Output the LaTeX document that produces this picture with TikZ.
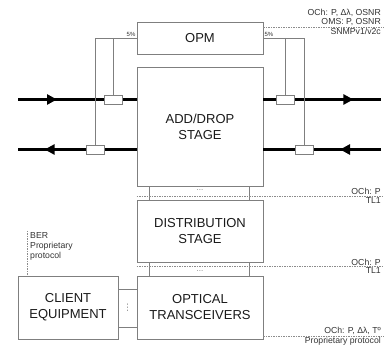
\documentclass[tikz,border=0pt]{standalone}
\usepackage{fontspec}
\setmainfont{Liberation Sans}
\newfontfamily\symfont{DejaVu Sans}
\usetikzlibrary{
  arrows.meta,
  positioning,
  calc,
  decorations.markings
}
\definecolor{odEdge}{HTML}{7F7F7F}
\definecolor{odText}{HTML}{1A1A1A}
\definecolor{odMgmt}{HTML}{8C8C8C}
\definecolor{odLabel}{HTML}{333333}
\tikzset{
  stage/.style={
    draw=odEdge, line width=0.8pt, fill=white, minimum width=126pt,
    inner sep=0pt, align=center, text=odText,
    font=\fontsize{13}{16}\selectfont
  },
  coupler/.style={draw=odEdge, line width=0.7pt, fill=white, minimum width=18pt, minimum height=9pt, inner sep=0pt},
  fiber/.style={line width=3pt, black},
  flowmark/.style={
    postaction={decorate},
    decoration={markings, mark=at position #1 with {\arrow{Triangle[length=10pt,width=10pt]}}}
  },
  tap/.style={odEdge, line width=0.7pt},
  mgmt/.style={odMgmt, line width=0.6pt, dash pattern=on 1.5pt off 1pt},
  tag/.style={font=\fontsize{8.7}{9}\selectfont, text=odLabel, inner sep=1pt},
  pct/.style={font=\fontsize{6}{7}\selectfont, text=odLabel, inner sep=1pt},
  dots/.style={font=\fontsize{8}{8}\selectfont, text=odEdge, inner sep=0pt}
}

\begin{document}
\begin{tikzpicture}[x=1pt, y=-1pt]
  \useasboundingbox (0,0) rectangle (384,347);
  % stages
  \node[stage, minimum height=32pt] (opm) at (200,38) {OPM};
  \node[stage, minimum height=119pt] (adddrop) at (200,126.5) {ADD/DROP\\STAGE};
  \node[stage, minimum height=62pt] (distrib) at (200,231) {DISTRIBUTION\\STAGE};
  \node[stage, minimum height=63pt] (trx) at (200,307.5) {OPTICAL\\TRANSCEIVERS};
  \node[stage, minimum width=100pt, minimum height=63pt] (client) at (68,307.5) {CLIENT\\EQUIPMENT};

  % line fibres
  \coordinate (inW) at (18,99.5);
  \coordinate (outE) at (381,99.5);
  \coordinate (outW) at (18,149.5);
  \coordinate (inE) at (381,149.5);
  \draw[fiber, flowmark=39pt] (inW) -- (inW -| adddrop.west);
  \draw[fiber, flowmark=90pt] (outE -| adddrop.east) -- (outE);
  \draw[fiber, flowmark=92pt] (outW -| adddrop.west) -- (outW);
  \draw[fiber, flowmark=41pt] (inE) -- (inE -| adddrop.east);

  % 5% taps to the OPM
  \node[coupler] (cTL) at (113.5,99.5) {};
  \node[coupler] (cTR) at (285.5,99.5) {};
  \node[coupler] (cBL) at (95.5,149.5) {};
  \node[coupler] (cBR) at (304,149.5) {};
  \draw[tap] (opm.west) -| (cBL.north);
  \draw[tap] (opm.west -| cTL.north) -- (cTL.north);
  \draw[tap] (opm.east) -| (cBR.north);
  \draw[tap] (opm.east -| cTR.north) -- (cTR.north);
  \node[pct, anchor=south east] (pctW) at (opm.west) {5\%};
  \node[pct, anchor=south west] (pctE) at (opm.east) {5\%};

  % links between stages
  \draw[tap] ([xshift=12.5pt]adddrop.south west) -- ([xshift=12.5pt]distrib.north west);
  \draw[tap] ([xshift=-14pt]adddrop.south east) -- ([xshift=-14pt]distrib.north east);
  \node[dots, yshift=2.5pt] (dotsA) at ($(adddrop.south)!0.5!(distrib.north)$) {...};
  \draw[tap] ([xshift=12.5pt]distrib.south west) -- ([xshift=12.5pt]trx.north west);
  \draw[tap] ([xshift=-14pt]distrib.south east) -- ([xshift=-14pt]trx.north east);
  \node[dots, yshift=-2pt] (dotsB) at ($(distrib.south)!0.5!(trx.north)$) {...};
  \draw[tap] ([yshift=-14pt]client.north east) -- ([yshift=-14pt]trx.north west);
  \draw[tap] ([yshift=12pt]client.south east) -- ([yshift=12pt]trx.south west);
  \node[dots, font=\symfont\fontsize{9}{9}\selectfont] (dotsC) at ($(client.east)!0.5!(trx.west)$) {⋮};

  % management interfaces
  \coordinate (mgTop) at (384,27);
  \draw[mgmt] (mgTop -| opm.east) -- (mgTop);
  \node[tag, anchor=south east, align=right] (opmTag) at ([xshift=-2pt]mgTop) {OCh: P, Δλ, OSNR\\OMS: P, OSNR};
  \node[tag, anchor=north east] (opmProto) at ([xshift=-2pt]mgTop) {SNMPv1/v2c};

  \coordinate (mgA) at (384,196);
  \draw[mgmt] (mgA -| distrib.west) -- (mgA);
  \node[tag, anchor=south east] (addTag) at ([xshift=-2pt]mgA) {OCh: P};
  \node[tag, anchor=north east] (addProto) at ([xshift=-2pt]mgA) {TL1};

  \coordinate (mgB) at (384,266.5);
  \draw[mgmt] (mgB -| trx.west) -- (mgB);
  \node[tag, anchor=south east] (distTag) at ([xshift=-2pt]mgB) {OCh: P};
  \node[tag, anchor=north east] (distProto) at ([xshift=-2pt]mgB) {TL1};

  \coordinate (mgC) at (384,336);
  \draw[mgmt] (mgC -| trx.east) -- (mgC);
  \node[tag, anchor=south east] (trxTag) at ([xshift=-2pt]mgC) {OCh: P, Δλ, Tº};
  \node[tag, anchor=north east] (trxProto) at ([xshift=-2pt]mgC) {Proprietary protocol};

  \coordinate (berTop) at (27,231);
  \draw[mgmt] (berTop) -- (berTop |- client.north);
  \node[tag, anchor=north west, align=left, font=\fontsize{8.7}{10}\selectfont] (berTag) at ([xshift=2pt]berTop) {BER\\Proprietary\\protocol};
\end{tikzpicture}
\end{document}
